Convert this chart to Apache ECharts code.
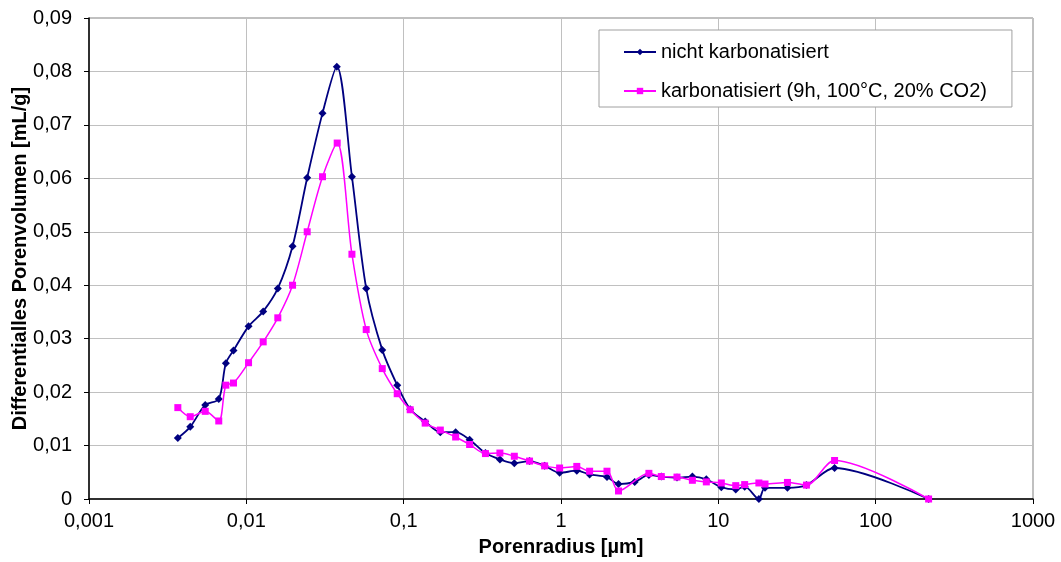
<!DOCTYPE html>
<html>
<head>
<meta charset="utf-8">
<script src="https://cdn.jsdelivr.net/npm/echarts@6/dist/echarts.min.js"></script>
<style>
  html, body { margin: 0; padding: 0; background: #fff; }
  #chart { width: 1061px; height: 562px; }
</style>
</head>
<body>
<div id="chart"></div>
<script>
// Pore radius [µm] and differential pore volume [mL/g]
const radiusUncarbonated = [0.00367, 0.0044, 0.00548, 0.00668, 0.00741, 0.00829, 0.01033, 0.0128, 0.01585, 0.01967,
  0.02437, 0.0305, 0.0376, 0.0469, 0.0578, 0.0731, 0.091, 0.110, 0.137, 0.171,
  0.214, 0.2625, 0.331, 0.409, 0.505, 0.631, 0.787, 0.98, 1.26, 1.52,
  1.96, 2.32, 2.94, 3.62, 4.34, 5.46, 6.84, 8.39, 10.45, 12.9,
  14.7, 18.1, 19.8, 27.5, 36.3, 54.8, 217];
const volumeUncarbonated = [0.0114, 0.0135, 0.0176, 0.0187, 0.0254, 0.0278, 0.0323, 0.0351, 0.0394, 0.0473,
  0.0601, 0.0722, 0.0809, 0.0603, 0.0394, 0.0279, 0.0213, 0.0168, 0.0145, 0.0125,
  0.0125, 0.0111, 0.0086, 0.0074, 0.0067, 0.0071, 0.0062, 0.0049, 0.0053, 0.0046,
  0.0041, 0.0028, 0.0032, 0.0045, 0.0042, 0.0040, 0.0042, 0.0037, 0.0022, 0.0018,
  0.0023, 0.0000, 0.0021, 0.0021, 0.0026, 0.0058, 0];

const radiusCarbonated = [0.00367, 0.0044, 0.00548, 0.00668, 0.00741, 0.00829, 0.01033, 0.0128, 0.01585, 0.01967,
  0.02437, 0.0305, 0.0378, 0.0469, 0.0578, 0.0731, 0.091, 0.110, 0.137, 0.171,
  0.214, 0.2625, 0.331, 0.409, 0.505, 0.631, 0.787, 0.98, 1.26, 1.52,
  1.96, 2.32, 3.62, 4.34, 5.46, 6.84, 8.39, 10.45, 12.9,
  14.7, 18.1, 19.8, 27.5, 36.3, 54.8, 217];
const volumeCarbonated = [0.0171, 0.0154, 0.0164, 0.0146, 0.0213, 0.0217, 0.0255, 0.0294, 0.0339, 0.0400,
  0.0500, 0.0603, 0.0666, 0.0458, 0.0317, 0.0244, 0.0197, 0.0167, 0.0142, 0.0129,
  0.0116, 0.0102, 0.0085, 0.0086, 0.0080, 0.0071, 0.0062, 0.0058, 0.0061, 0.0052,
  0.0052, 0.0015, 0.0048, 0.0042, 0.0041, 0.0035, 0.0032, 0.0030, 0.0025,
  0.0027, 0.0030, 0.0028, 0.0031, 0.0026, 0.0072, 0];

const seriesNames = ['nicht karbonatisiert', 'karbonatisiert (9h, 100°C, 20% CO2)'];
const xAxisTitle = 'Porenradius [µm]';
const yAxisTitle = 'Differentialles Porenvolumen [mL/g]';

const pairs = (xs, ys) => xs.map((x, i) => [x, ys[i]]);
const FONT = '"Liberation Sans", Arial, sans-serif';

const chart = echarts.init(document.getElementById('chart'), null, { renderer: 'canvas' });
chart.setOption({
  animation: false,
  backgroundColor: '#ffffff',
  grid: {
    left: 89, right: 28, top: 18, bottom: 63,
    outerBoundsMode: 'none',
    containLabel: false,
    show: true, borderColor: '#808080', borderWidth: 1, backgroundColor: 'transparent'
  },
  legend: {
    orient: 'vertical',
    left: 599, top: 30,
    padding: [12, 25, 6, 24],
    itemGap: 19,
    itemWidth: 32, itemHeight: 8,
    borderColor: '#a0a0a0', borderWidth: 1,
    backgroundColor: '#ffffff',
    textStyle: { fontFamily: FONT, fontSize: 20, color: '#000', lineHeight: 20 },
    data: seriesNames
  },
  xAxis: {
    type: 'log', logBase: 10, min: 0.001, max: 1000,
    name: xAxisTitle, nameLocation: 'middle', nameGap: 38,
    nameMoveOverlap: false,
    nameTextStyle: { fontFamily: FONT, fontSize: 20, fontWeight: 'bold', color: '#000' },
    axisLine: { show: true, lineStyle: { color: '#000', width: 1.5 } },
    axisTick: { show: true, length: 5, lineStyle: { color: '#000' } },
    axisLabel: {
      fontFamily: FONT, fontSize: 20, color: '#000', margin: 12,
      formatter: v => v >= 1 ? String(Math.round(v)) : Number(v.toPrecision(1)).toString().replace('.', ',')
    },
    splitLine: { show: true, lineStyle: { color: '#c0c0c0', width: 1 } },
    minorTick: { show: false }
  },
  yAxis: {
    type: 'value', min: 0, max: 0.09, interval: 0.01,
    name: yAxisTitle, nameLocation: 'middle', nameGap: 59, nameRotate: 90,
    nameMoveOverlap: false,
    nameTextStyle: { fontFamily: FONT, fontSize: 20, fontWeight: 'bold', color: '#000' },
    axisLine: { show: true, lineStyle: { color: '#000', width: 1.5 } },
    axisTick: { show: true, length: 5, lineStyle: { color: '#000' } },
    axisLabel: {
      fontFamily: FONT, fontSize: 20, color: '#000', margin: 17,
      formatter: v => v === 0 ? '0' : v.toFixed(2).replace('.', ',')
    },
    splitLine: { show: true, lineStyle: { color: '#c0c0c0', width: 1 } }
  },
  series: [
    {
      name: seriesNames[0], type: 'line',
      data: pairs(radiusUncarbonated, volumeUncarbonated),
      smooth: 0.3,
      symbol: 'diamond', symbolSize: 8,
      lineStyle: { color: '#000080', width: 1.8 },
      itemStyle: { color: '#000080' },
      z: 2
    },
    {
      name: seriesNames[1], type: 'line',
      data: pairs(radiusCarbonated, volumeCarbonated),
      smooth: 0.3,
      symbol: 'rect', symbolSize: 7,
      lineStyle: { color: '#ff00ff', width: 1.5 },
      itemStyle: { color: '#ff00ff' },
      z: 3
    }
  ]
});
</script>
</body>
</html>
